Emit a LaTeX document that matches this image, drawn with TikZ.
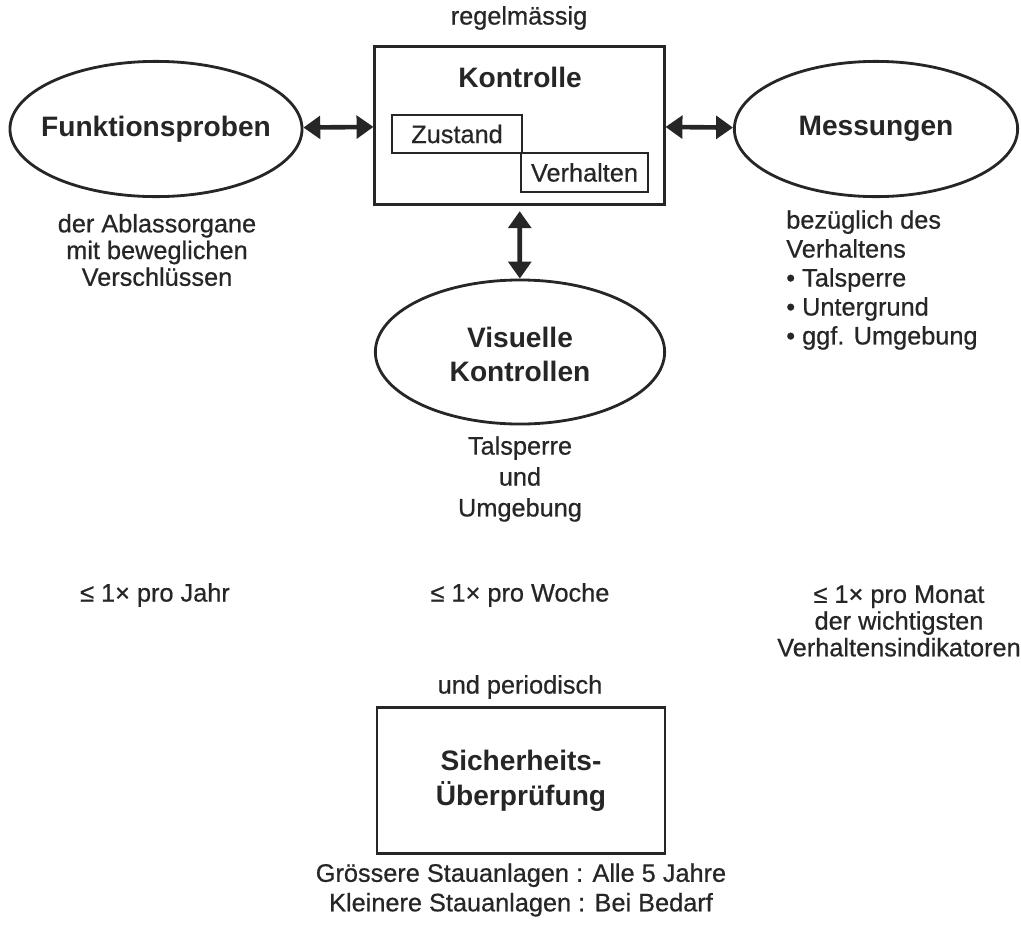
\documentclass[tikz,border=0pt]{standalone}
\usepackage{fontspec}
\setmainfont{Liberation Sans}
\newfontfamily\heavy{Liberation Sans}[FakeBold=0.6]
\usetikzlibrary{arrows.meta, shapes.geometric}
\definecolor{ink}{RGB}{38,38,38}

\begin{document}
\begin{tikzpicture}[x=0.025cm, y=-0.025cm,
    txt/.style={text=ink, font=\heavy\fontsize{18}{20}\selectfont, align=center, inner sep=0pt},
    ttl/.style={text=ink, font=\fontsize{20}{24}\selectfont\bfseries, align=center, inner sep=0pt},
    oval/.style={draw=ink, line width=2pt, ellipse, inner sep=0pt},
    frame/.style={draw=ink, line width=2pt, rectangle, inner sep=0pt},
    tag/.style={draw=ink, line width=1pt, rectangle, inner sep=0pt, text=ink, font=\heavy\fontsize{18}{20}\selectfont},
    both/.style={draw=ink, line width=3.3pt, {Triangle[length=12pt,width=16pt]}-{Triangle[length=12pt,width=16pt]}}]

  \useasboundingbox (0,0) rectangle (1021,929);

  \node[txt] (regel) at (519,18) {regelmässig};
  \node[frame, minimum width=7.23cm, minimum height=3.93cm] (kontr) at (519.5,125.5) {};
  \node[ttl] (kontrtxt) at (520,77) {Kontrolle};
  \node[tag, minimum width=3.25cm, minimum height=0.95cm] (zust) at (457,134) {Zustand};
  \node[tag, minimum width=3.18cm, minimum height=0.98cm] (verh) at (584.5,172.5) {Verhalten};

  \node[oval, minimum width=7.3cm, minimum height=3.38cm] (funk) at (156,129) {};
  \node[ttl] at (funk) {Funktionsproben};
  \node[txt, font=\heavy\fontsize{18}{19}\selectfont] (funktxt) at (157,250) {der Ablassorgane\\mit beweglichen\\Verschlüssen};

  \node[oval, minimum width=7.08cm, minimum height=3.38cm] (mess) at (876,129) {};
  \node[ttl] at (mess) {Messungen};
  \node[txt, align=left, anchor=west, font=\heavy\fontsize{18}{20.6}\selectfont] (messtxt) at (786,280)
    {bezüglich des\\Verhaltens\\• Talsperre\\• Untergrund\\• ggf. Umgebung};

  \node[oval, minimum width=7.23cm, minimum height=3.6cm] (visu) at (520,352) {};
  \node[ttl] at ([yshift=-2pt]visu.center) {Visuelle\\Kontrollen};
  \node[txt, font=\heavy\fontsize{18}{22}\selectfont] (visutxt) at (520,479) {Talsperre\\und\\Umgebung};

  \draw[both] (funk) -- (kontr);
  \draw[both] (kontr) -- (mess);
  \draw[both, shorten <=4pt] (kontr) -- (visu);

  \node[txt] (jahr) at (155,595) {≤ 1× pro Jahr};
  \node[txt] (woche) at (520,595) {≤ 1× pro Woche};
  \node[txt, font=\heavy\fontsize{18}{19}\selectfont] (monat) at (899,621) {≤ 1× pro Monat\\der wichtigsten\\Verhaltensindikatoren};

  \node[txt] (period) at (520,687) {und periodisch};
  \node[frame, minimum width=7.2cm, minimum height=3.63cm] (sich) at (521,780.5) {};
  \node[ttl, font=\fontsize{20}{25}\selectfont\bfseries] at (sich) {Sicherheits-\\Überprüfung};
  \node[txt, font=\heavy\fontsize{18}{21}\selectfont] (anlagen) at (521,890)
    {Grössere Stauanlagen : Alle 5 Jahre\\Kleinere Stauanlagen : Bei Bedarf};
\end{tikzpicture}
\end{document}
